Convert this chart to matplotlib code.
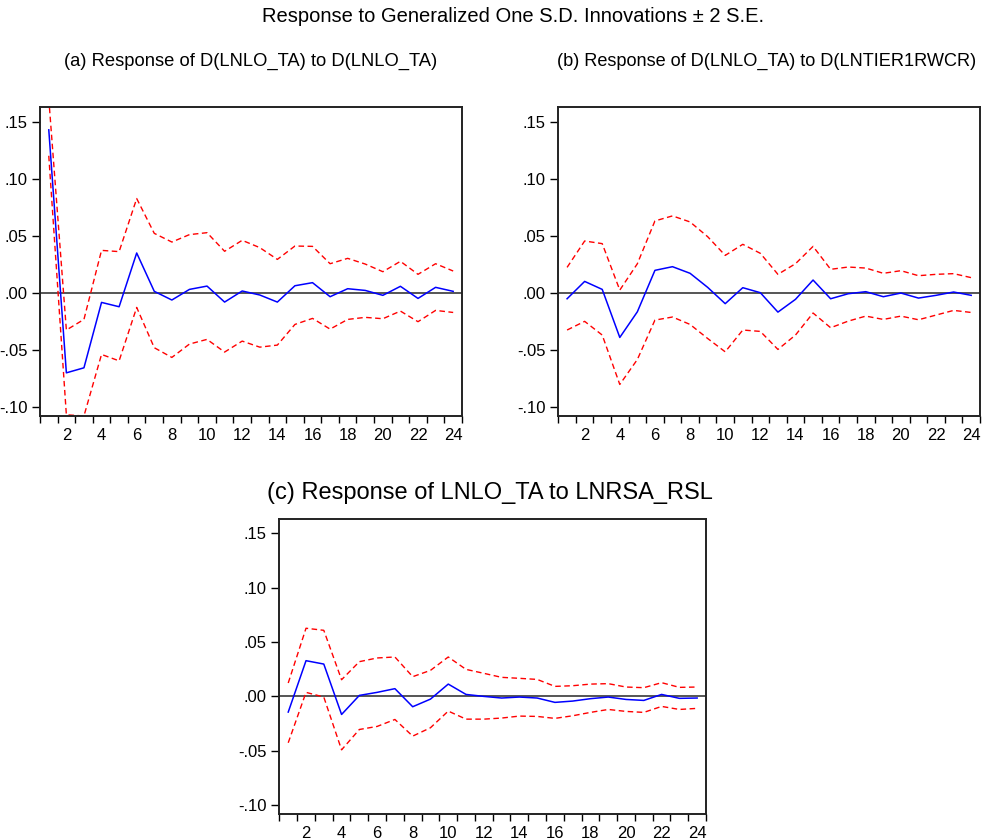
import matplotlib
matplotlib.use("Agg")
import matplotlib.pyplot as plt
import numpy as np

periods = list(range(1, 25))

# Panel (a): Response of D(LNLO_TA) to D(LNLO_TA)
a_resp = [0.1427, -0.0702, -0.0658, -0.0085, -0.0123, 0.0348, 0.0012, -0.0064,
          0.0029, 0.0058, -0.0082, 0.0015, -0.0020, -0.0082, 0.0061, 0.0088,
          -0.0035, 0.0035, 0.0020, -0.0023, 0.0056, -0.0050, 0.0047, 0.0012]
a_upper = [0.170, -0.0327, -0.0234, 0.0371, 0.0360, 0.0825, 0.0520, 0.0444,
           0.0509, 0.0526, 0.0363, 0.0459, 0.0395, 0.0292, 0.0409, 0.0406,
           0.0254, 0.0301, 0.0251, 0.0184, 0.0275, 0.0161, 0.0254, 0.0190]
a_lower = [0.120, -0.1070, -0.1080, -0.0541, -0.0597, -0.0129, -0.0482, -0.0567,
           -0.0450, -0.0409, -0.0520, -0.0424, -0.0477, -0.0459, -0.0278, -0.0225,
           -0.0319, -0.0234, -0.0216, -0.0228, -0.0161, -0.0254, -0.0155, -0.0173]

# Panel (b): Response of D(LNLO_TA) to D(LNTIER1RWCR)
b_resp = [-0.0053, 0.0099, 0.0029, -0.0392, -0.0167, 0.0196, 0.0228, 0.0170,
          0.0047, -0.0096, 0.0044, 0.0000, -0.0170, -0.0058, 0.0111, -0.0053,
          -0.0009, 0.0009, -0.0035, -0.0003, -0.0047, -0.0023, 0.0006, -0.0023]
b_upper = [0.0222, 0.0453, 0.0430, 0.0023, 0.0254, 0.0629, 0.0673, 0.0620,
           0.0491, 0.0327, 0.0424, 0.0345, 0.0161, 0.0254, 0.0406, 0.0205,
           0.0225, 0.0216, 0.0170, 0.0193, 0.0149, 0.0161, 0.0167, 0.0132]
b_lower = [-0.0327, -0.0251, -0.0371, -0.0804, -0.0585, -0.0240, -0.0213, -0.0278,
           -0.0401, -0.0518, -0.0327, -0.0339, -0.0497, -0.0371, -0.0178, -0.0307,
           -0.0249, -0.0205, -0.0234, -0.0205, -0.0237, -0.0196, -0.0155, -0.0173]

# Panel (c): Response of LNLO_TA to LNRSA_RSL
c_resp = [-0.0144, 0.0328, 0.0297, -0.0166, 0.0009, 0.0037, 0.0071, -0.0095,
          -0.0025, 0.0113, 0.0018, 0.0000, -0.0015, -0.0006, -0.0015, -0.0055,
          -0.0043, -0.0021, -0.0006, -0.0028, -0.0037, 0.0018, -0.0018, -0.0015]
c_upper = [0.0123, 0.0626, 0.0607, 0.0153, 0.0319, 0.0353, 0.0362, 0.0181,
           0.0239, 0.0362, 0.0248, 0.0212, 0.0175, 0.0166, 0.0156, 0.0092,
           0.0098, 0.0113, 0.0117, 0.0086, 0.0080, 0.0126, 0.0083, 0.0086]
c_lower = [-0.0426, 0.0037, -0.0006, -0.0491, -0.0304, -0.0276, -0.0212, -0.0365,
           -0.0288, -0.0135, -0.0209, -0.0209, -0.0199, -0.0181, -0.0184, -0.0202,
           -0.0178, -0.0147, -0.0120, -0.0138, -0.0147, -0.0092, -0.0120, -0.0110]

yticks = [-0.10, -0.05, 0.00, 0.05, 0.10, 0.15]
ytick_labels = ["-.10", "-.05", ".00", ".05", ".10", ".15"]
xticks = list(range(2, 25, 2))

main_title = "Response to Generalized One S.D. Innovations \u00b1 2 S.E."
title_a = "(a) Response of D(LNLO_TA) to D(LNLO_TA)"
title_b = "(b) Response of D(LNLO_TA) to D(LNTIER1RWCR)"
title_c = "(c) Response of LNLO_TA to LNRSA_RSL"

plt.rcParams["font.family"] = ["Liberation Sans", "DejaVu Sans"]

fig = plt.figure(figsize=(9.85, 8.4), dpi=100)

def draw(ax, resp, up, lo):
    ax.plot(periods, up, color="#ff0000", lw=1.0, ls=(0, (4, 2.5)))
    ax.plot(periods, lo, color="#ff0000", lw=1.0, ls=(0, (4, 2.5)))
    ax.plot(periods, resp, color="#0000ff", lw=1.1)
    ax.axhline(0, color="#555555", lw=1.4, zorder=1)
    ax.set_xlim(0.5, 24.5)
    ax.set_ylim(-0.108, 0.163)
    ax.set_yticks(yticks)
    ax.set_yticklabels(ytick_labels, fontsize=12)
    ax.set_xticks(xticks)
    ax.set_xticklabels([str(t) for t in xticks], fontsize=12)
    ax.set_xticks(np.arange(0.5, 25, 1.0), minor=True)
    ax.tick_params(axis="x", which="major", length=0, pad=9)
    ax.tick_params(axis="x", which="minor", length=5, width=1.0, direction="out")
    ax.tick_params(axis="y", which="major", length=6, width=1.0, direction="out", pad=3)
    for s in ax.spines.values():
        s.set_linewidth(1.4)
        s.set_color("#222222")

ax_a = fig.add_axes([0.0406, 0.5048, 0.4284, 0.3682])
draw(ax_a, a_resp, a_upper, a_lower)
ax_b = fig.add_axes([0.5668, 0.5048, 0.4281, 0.3682])
draw(ax_b, b_resp, b_upper, b_lower)
ax_c = fig.add_axes([0.2836, 0.0310, 0.4332, 0.3512])
draw(ax_c, c_resp, c_upper, c_lower)

fig.text(513 / 985, 1 - 16 / 840, main_title, ha="center", va="center", fontsize=14.5)
fig.text(251 / 985, 1 - 61 / 840, title_a, ha="center", va="center", fontsize=13.2)
fig.text(767 / 985, 1 - 61 / 840, title_b, ha="center", va="center", fontsize=13.1)
fig.text(490 / 985, 1 - 493 / 840, title_c, ha="center", va="center", fontsize=17)

fig.savefig("out.png", dpi=100, facecolor="white")
